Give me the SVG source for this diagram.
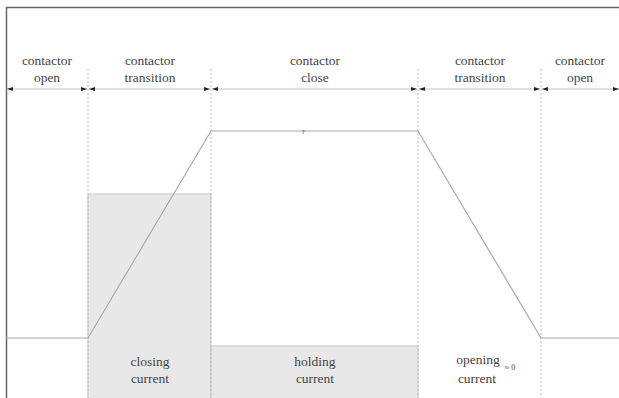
<svg xmlns="http://www.w3.org/2000/svg" width="619" height="398" viewBox="0 0 619 398">
<defs>
<style>
.t{font-family:'Liberation Serif','DejaVu Serif','Times New Roman',serif;font-size:13.5px;fill:#444;text-anchor:middle}
.div{stroke:#bbb;stroke-width:1;stroke-dasharray:2,2;fill:none}
.curve{stroke:#aaa;stroke-width:1.2;fill:none}
.dim{stroke:#c4c4c4;stroke-width:1.2;fill:none}
.box{fill:#e8e8e8;stroke:#c8c8c8;stroke-width:1}
</style>
<marker id="ah" viewBox="0 0 6 4" refX="6" refY="2" markerWidth="6" markerHeight="4" markerUnits="userSpaceOnUse" orient="auto-start-reverse">
<path d="M0,0 L6,2 L0,4 Z" fill="#222"/>
</marker>
</defs>
<rect x="0" y="0" width="619" height="398" fill="#fff"/>
<g id="frame">
<path d="M6.5,398 V7.5 H619" stroke="#666" stroke-width="1.5" fill="none"/>
</g>
<g id="boxes">
<g id="closing-current"><rect class="box" x="88" y="194" width="123" height="210"/>
<text class="t" x="150" y="366">closing</text><text class="t" x="150" y="383">current</text></g>
<g id="holding-current"><rect class="box" x="211" y="346" width="207" height="60"/>
<text class="t" x="315" y="366">holding</text><text class="t" x="315" y="383">current</text></g>
<g id="opening-current"><text class="t" x="478" y="364">opening</text><text class="t" x="510" y="370" style="font-size:8px">≈ 0</text><text class="t" x="477" y="383">current</text></g>
</g>
<g id="connectors">
<path class="div" d="M88,69 V398 M211,69 V398 M418,69 V398 M541,69 V398"/>
<path class="curve" d="M6,338 H88 L211,131 H418 L541,338 H619"/>
<text x="302" y="134" font-family="'Liberation Serif',serif" font-size="6" fill="#777">F</text>
<line class="dim" x1="7" y1="89" x2="87" y2="89" marker-start="url(#ah)" marker-end="url(#ah)"/>
<line class="dim" x1="89" y1="89" x2="210" y2="89" marker-start="url(#ah)" marker-end="url(#ah)"/>
<line class="dim" x1="212" y1="89" x2="417" y2="89" marker-start="url(#ah)" marker-end="url(#ah)"/>
<line class="dim" x1="419" y1="89" x2="540" y2="89" marker-start="url(#ah)" marker-end="url(#ah)"/>
<line class="dim" x1="542" y1="89" x2="619" y2="89" marker-start="url(#ah)" marker-end="url(#ah)"/>
</g>
<g id="headers">
<g id="h-open1"><text class="t" x="47" y="65">contactor</text><text class="t" x="47" y="82">open</text></g>
<g id="h-trans1"><text class="t" x="150" y="65">contactor</text><text class="t" x="150" y="82">transition</text></g>
<g id="h-close"><text class="t" x="315" y="65">contactor</text><text class="t" x="315" y="82">close</text></g>
<g id="h-trans2"><text class="t" x="480" y="65">contactor</text><text class="t" x="480" y="82">transition</text></g>
<g id="h-open2"><text class="t" x="580" y="65">contactor</text><text class="t" x="580" y="82">open</text></g>
</g>
</svg>
